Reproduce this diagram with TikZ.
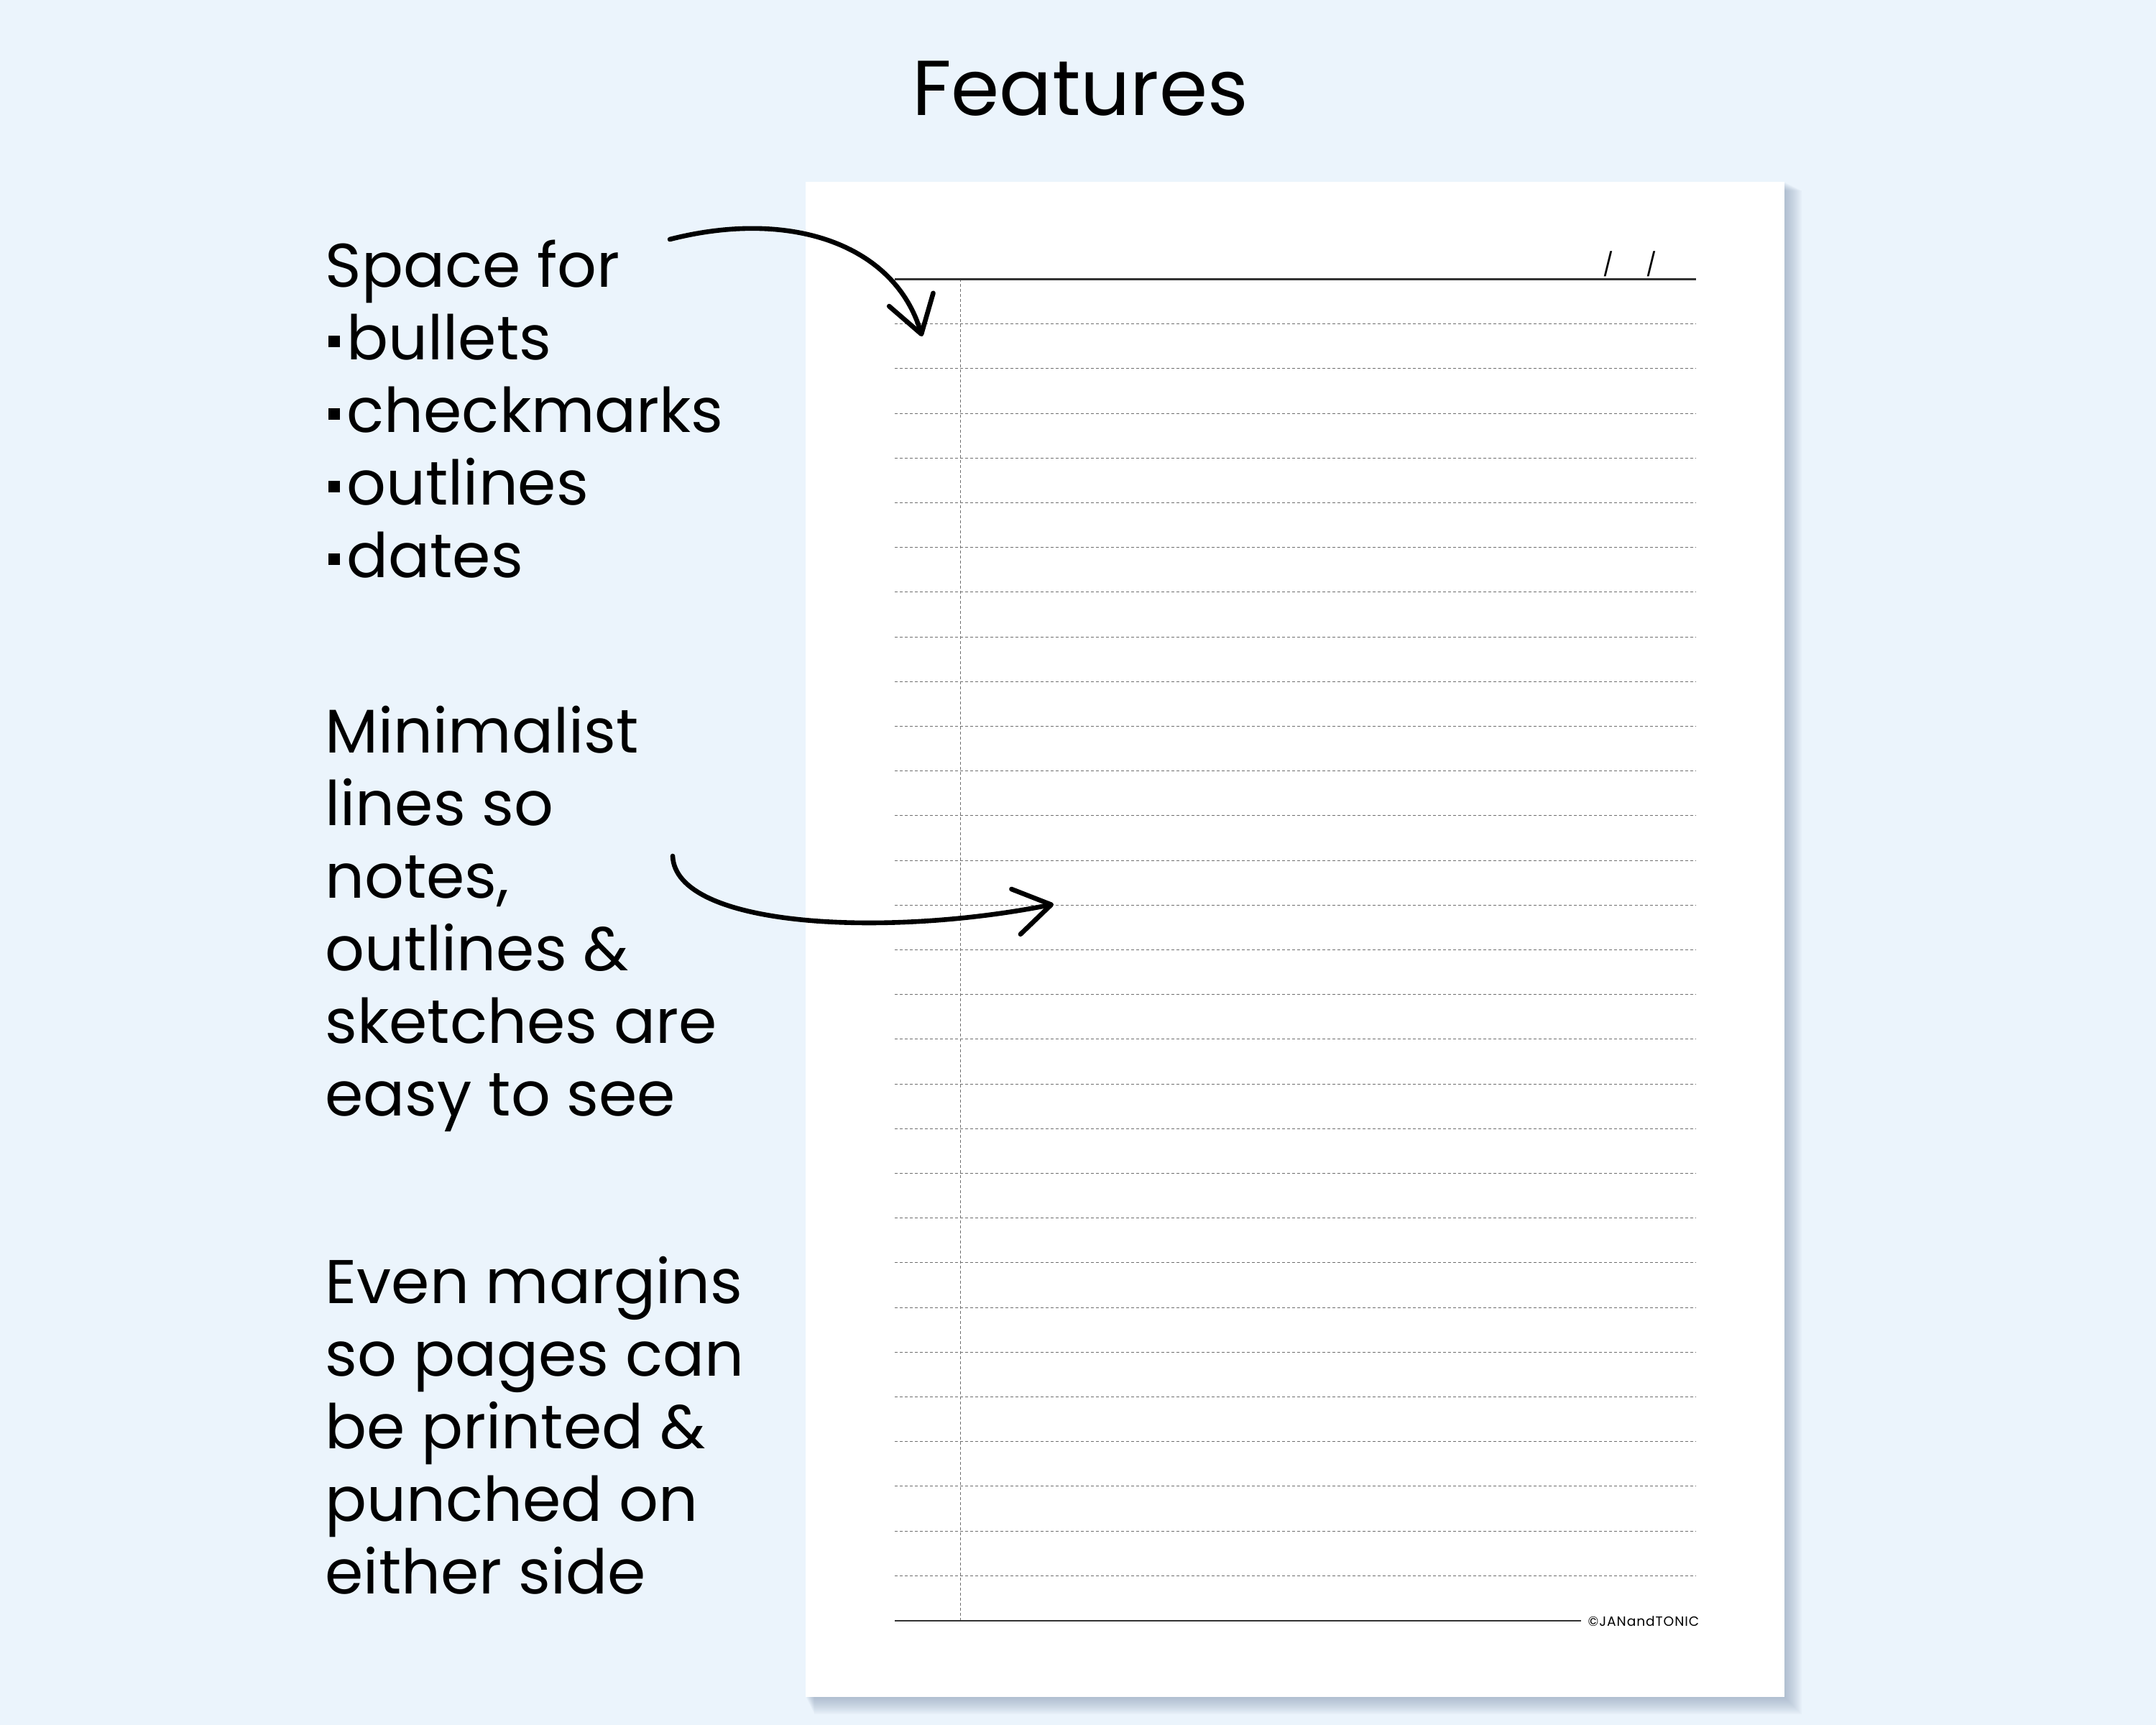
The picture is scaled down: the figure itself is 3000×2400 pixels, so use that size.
\documentclass[tikz,border=0pt]{standalone}
\usepackage{fontspec}
\setmainfont{Poppins}
\usetikzlibrary{arrows.meta, positioning}
\definecolor{bgblue}{RGB}{235,244,252}
\definecolor{ruleline}{RGB}{110,110,110}
\definecolor{edgeline}{RGB}{50,50,50}
\definecolor{shadowcol}{RGB}{120,140,170}
\newcommand{\sqbullet}{\hspace{0.04cm}\rule[0.17cm]{0.16cm}{0.16cm}\hspace{0.1cm}}

\begin{document}
\begin{tikzpicture}[
    x=0.01cm, y=-0.01cm,
    feature/.style={anchor=base west, align=left, inner sep=0pt, font=\fontsize{24.4pt}{28.7pt}\selectfont},
    heading/.style={anchor=base, inner sep=0pt, font=\fontsize{30.8pt}{36pt}\selectfont},
    dotrule/.style={draw=ruleline, line width=0.011cm, dash pattern=on 0.04cm off 0.03cm},
    solidrule/.style={draw=edgeline, line width=0.03cm},
    pointer/.style={line width=0.066cm, line cap=round, -{Straight Barb[length=0.5cm, width=0.64cm, round]}}
]

% Background and page
\fill[bgblue] (0,0) rectangle (3000,2400);
\useasboundingbox (0,0) rectangle (3000,2400);
\foreach \d in {1,...,12}
    \fill[shadowcol, opacity=0.05] (1121+\d,253+\d) rectangle (2483+2*\d,2361+2*\d);
\fill[white] (1121,253) rectangle (2483,2361);

% Title
\node[heading] (title) at (1503,161) {Features};

% Ruled lines
\foreach \k in {1,...,29}
    \draw[dotrule] (1245,{388.5+round(62.2*\k)}) -- (2360,{388.5+round(62.2*\k)});
\draw[dotrule] (1336.5,388) -- (1336.5,2255);
\draw[solidrule] (1245,388) -- (2360,388);
\draw[solidrule, line width=0.022cm] (1245,2255) -- (2200,2255);

% Date and brand
\node[anchor=base, inner sep=0pt, font=\fontsize{9pt}{10pt}\selectfont] (date) at (2268,379) {/\hspace{0.45cm}/};
\node[anchor=base west, inner sep=0pt, font=\fontsize{5.3pt}{6pt}\selectfont\addfontfeature{LetterSpace=5}] (brand) at (2209,2262) {\textcopyright JANandTONIC};

% Features (anchored at the last line)
\node[feature] (spacefor) at (452,803) {Space for\\\sqbullet bullets\\\sqbullet checkmarks\\\sqbullet outlines\\\sqbullet dates};
\node[feature] (minimal) at (452,1552) {Minimalist\\lines so\\notes,\\outlines \&\\sketches are\\easy to see};
\node[feature] (margins) at (452,2217) {Even margins\\so pages can\\be printed \&\\punched on\\either side};

% Arrows
\coordinate (spacefrom) at (932,333);
\coordinate (spaceto) at (1283,468);
\coordinate (minfrom) at (936,1191);
\coordinate (minto) at (1466,1258);
\draw[pointer] (spacefrom) .. controls (1100,290) and (1245,340) .. (spaceto);
\draw[pointer] (minfrom) .. controls (940,1290) and (1230,1305) .. (minto);

\end{tikzpicture}
\end{document}
